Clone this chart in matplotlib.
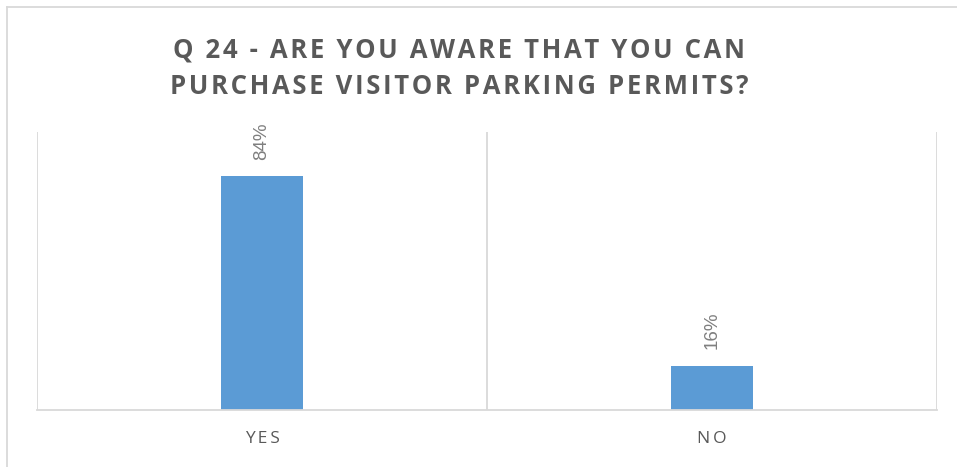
import matplotlib.pyplot as plt
from matplotlib.lines import Line2D

# data
categories = ['YES', 'NO']
values = [84, 16]
labels = ['84%', '16%']
title = 'Q 24 - ARE YOU AWARE THAT YOU CAN\nPURCHASE VISITOR PARKING PERMITS?'

bar_color = '#5b9bd5'
grid_color = '#d9d9d9'
text_color = '#595959'


def spaced(s, sp='\u200a'):
    # fake letter spacing with hair spaces
    return '\n'.join(sp.join(line) for line in s.split('\n'))


fig = plt.figure(figsize=(9.57, 4.67), dpi=100)
ax = fig.add_axes([37 / 957, 57 / 467, 900 / 957, 278 / 467])

x = list(range(len(categories)))
ax.bar(x, values, width=0.184, color=bar_color, zorder=2)
ax.set_xlim(-0.5, len(categories) - 0.5)
ax.set_ylim(0, 100)

# category separators
for b in [-0.5, 0.5, 1.5]:
    ax.axvline(b, color=grid_color, lw=1.3, zorder=1)

for s in ax.spines.values():
    s.set_visible(False)
ax.spines['bottom'].set_visible(True)
ax.spines['bottom'].set_color(grid_color)
ax.spines['bottom'].set_linewidth(1.3)
ax.set_yticks([])
ax.set_xticks(x)
ax.set_xticklabels([spaced(c, '\u2009') for c in categories], color=text_color,
                   fontsize=12.5, family=['Open Sans', 'DejaVu Sans'])
ax.tick_params(axis='x', length=0, pad=15)

for xi, v, lab in zip(x, values, labels):
    ax.annotate(lab, (xi, v), xytext=(0, 12), textcoords='offset points',
                rotation=90, ha='center', va='bottom', color='#7f7f7f',
                fontsize=13.5, family='Liberation Sans')

fig.text(459 / 957, 1 - 68 / 467, spaced(title, '\u200a'), ha='center', va='center',
         fontsize=18.5, fontweight='bold', color=text_color,
         family=['Open Sans', 'DejaVu Sans'], linespacing=1.45)

# outer chart border (top and left only visible)
fig.add_artist(Line2D([7 / 957, 1], [1 - 7 / 467, 1 - 7 / 467], color=grid_color, lw=1.3))
fig.add_artist(Line2D([7 / 957, 7 / 957], [0, 1 - 7 / 467], color=grid_color, lw=1.3))

fig.savefig('out.png', dpi=100)
